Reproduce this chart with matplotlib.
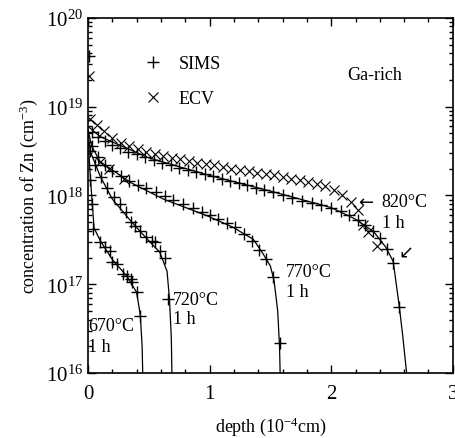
import matplotlib.pyplot as plt
import numpy as np

plt.rcParams['font.family'] = ['Liberation Serif', 'DejaVu Serif']
plt.rcParams['mathtext.fontset'] = 'custom'
plt.rcParams['mathtext.rm'] = 'Liberation Serif'
plt.rcParams['mathtext.it'] = 'Liberation Serif:italic'

# fitted profiles (depth in 1e-4 cm, concentration in cm^-3)
fit_670_x = [0, 0.015, 0.03, 0.05, 0.1, 0.2, 0.32, 0.4, 0.43, 0.445, 0.45]
fit_670_y = [4.5e18, 2e18, 1e18, 4.3e17, 3.1e17, 1.9e17, 1.23e17, 8.1e16, 4.5e16, 2e16, 1e16]

fit_720_x = [0, 0.02, 0.1, 0.2, 0.35, 0.48, 0.59, 0.65, 0.67, 0.685, 0.69]
fit_720_y = [5e18, 3.1e18, 1.65e18, 9.1e17, 5.2e17, 3.3e17, 2.3e17, 1.4e17, 6.8e16, 2.5e16, 1e16]

fit_770_x = [0, 0.03, 0.1, 0.35, 0.62, 0.98, 1.19, 1.36, 1.44, 1.5, 1.53, 1.56, 1.575, 1.58]
fit_770_y = [5.5e18, 3.6e18, 2.4e18, 1.4e18, 9.1e17, 5.9e17, 4.4e17, 3.2e17, 2.2e17,
             1.6e17, 1.1e17, 5e16, 2e16, 1e16]

fit_820_x = [0, 0.1, 0.5, 1.0, 1.5, 2.0, 2.2, 2.35, 2.45, 2.51, 2.56, 2.59, 2.62]
fit_820_y = [6e18, 4.6e18, 2.65e18, 1.68e18, 1.12e18, 7.3e17, 5.4e17, 3.9e17, 2.6e17,
             1.8e17, 5.6e16, 2.5e16, 1e16]

# SIMS data
sims_670_x = [0.02, 0.03, 0.04, 0.1, 0.14, 0.18, 0.2, 0.24, 0.29, 0.32, 0.35, 0.36, 0.4, 0.43]
sims_670_y = [1.5e18, 8e17, 4.2e17, 3.0e17, 2.6e17, 2.35e17, 1.8e17, 1.7e17, 1.3e17,
              1.23e17, 1.15e17, 1.07e17, 8.1e16, 4.4e16]

sims_720_x = [0.02, 0.06, 0.11, 0.16, 0.21, 0.26, 0.31, 0.35, 0.39, 0.43, 0.48, 0.53, 0.55,
              0.59, 0.63, 0.66]
sims_720_y = [3.2e18, 2.2e18, 1.6e18, 1.2e18, 9.5e17, 8e17, 6.5e17, 5e17, 4.5e17, 4e17,
              3.4e17, 3.1e17, 3e17, 2.35e17, 2.0e17, 6.8e16]

sims_770_x = [0.03, 0.08, 0.14, 0.2, 0.27, 0.34, 0.41, 0.48, 0.56, 0.63, 0.7, 0.78, 0.86,
              0.94, 1.0, 1.07, 1.14, 1.21, 1.28, 1.35, 1.41, 1.46, 1.52, 1.58]
sims_770_y = [3.6e18, 2.7e18, 2.2e18, 1.9e18, 1.65e18, 1.45e18, 1.3e18, 1.2e18, 1.1e18,
              9.8e17, 8.9e17, 8.0e17, 7.2e17, 6.5e17, 6.0e17, 5.5e17, 4.9e17, 4.4e17,
              3.7e17, 3.1e17, 2.4e17, 1.9e17, 1.2e17, 2.2e16]

sims_820_x = [0.005, 0.03, 0.08, 0.14, 0.2, 0.26, 0.33, 0.4, 0.47, 0.54, 0.61, 0.68, 0.75,
              0.82, 0.89, 0.96, 1.03, 1.1, 1.17, 1.24, 1.31, 1.38, 1.45, 1.52, 1.6, 1.68,
              1.76, 1.84, 1.92, 2.0, 2.08, 2.15, 2.22, 2.28, 2.34, 2.4, 2.46, 2.51, 2.56]
sims_820_y = [3.7e19, 5.2e18, 4.6e18, 4.1e18, 3.7e18, 3.4e18, 3.1e18, 2.9e18, 2.7e18,
              2.5e18, 2.35e18, 2.2e18, 2.05e18, 1.95e18, 1.85e18, 1.75e18, 1.65e18,
              1.55e18, 1.45e18, 1.38e18, 1.3e18, 1.22e18, 1.15e18, 1.08e18, 1.0e18,
              9.3e17, 8.7e17, 8.2e17, 7.8e17, 7.3e17, 6.6e17, 6.0e17, 5.3e17, 4.6e17,
              4.0e17, 3.3e17, 2.5e17, 1.75e17, 5.5e16]

# ECV data
ecv_770_x = [0.1, 0.17, 0.3]
ecv_770_y = [2.4e18, 2.0e18, 1.55e18]

ecv_820_x = [0.01, 0.02, 0.07, 0.13, 0.2, 0.27, 0.34, 0.41, 0.48, 0.55, 0.62, 0.69, 0.76,
             0.83, 0.9, 0.97, 1.04, 1.11, 1.18, 1.25, 1.32, 1.39, 1.46, 1.53, 1.6, 1.67,
             1.74, 1.81, 1.88, 1.95, 2.02, 2.09, 2.16, 2.22, 2.26, 2.3, 2.38]
ecv_820_y = [2.2e19, 7.2e18, 6.2e18, 5.3e18, 4.4e18, 3.9e18, 3.6e18, 3.3e18, 3.1e18,
             2.95e18, 2.8e18, 2.65e18, 2.55e18, 2.45e18, 2.35e18, 2.25e18, 2.2e18,
             2.1e18, 2.0e18, 1.95e18, 1.9e18, 1.8e18, 1.75e18, 1.7e18, 1.62e18, 1.55e18,
             1.48e18, 1.42e18, 1.35e18, 1.28e18, 1.15e18, 1.0e18, 8.5e17, 6.8e17,
             4.6e17, 3.9e17, 2.7e17]

fig = plt.figure(figsize=(4.56, 4.39), dpi=100)
ax = fig.add_axes([0.193, 0.148, 0.8, 0.809])

for fx, fy in [(fit_670_x, fit_670_y), (fit_720_x, fit_720_y),
               (fit_770_x, fit_770_y), (fit_820_x, fit_820_y)]:
    ax.plot(fx, fy, color='black', lw=0.9)

first = True
for sx, sy in [(sims_670_x, sims_670_y), (sims_720_x, sims_720_y),
               (sims_770_x, sims_770_y), (sims_820_x, sims_820_y)]:
    ax.plot(sx, sy, ls='none', marker='+', ms=9, mew=1.0, color='black',
            label='SIMS' if first else None)
    first = False

ax.plot(ecv_820_x, ecv_820_y, ls='none', marker='x', ms=6.5, mew=0.8, color='black',
        label='ECV')
ax.plot(ecv_770_x, ecv_770_y, ls='none', marker='x', ms=6.5, mew=0.8, color='black')

ax.set_yscale('log')
ax.set_xlim(0, 3)
ax.set_ylim(1e16, 1e20)
ax.set_xticks([0, 1, 2, 3])
ax.set_xticks(np.arange(0, 3.01, 0.2), minor=True)
ax.tick_params(which='both', direction='in', top=True, right=True, labelsize=15, width=1)
ax.tick_params(which='major', length=6)
ax.tick_params(which='minor', length=3)
ax.tick_params(axis='x', pad=8)
for s in ax.spines.values():
    s.set_linewidth(1.2)

ax.set_xlabel('depth (10$^{-4}$cm)', fontsize=13, labelpad=8)
ax.set_ylabel('concentration of Zn (cm$^{-3}$)', fontsize=13)

ax.legend(loc='upper left', bbox_to_anchor=(0.105, 0.94), frameon=False, fontsize=13,
          handletextpad=0.8, labelspacing=1.0, handlelength=1.2)

ax.text(2.36, 2.3e19, 'Ga-rich', fontsize=13, ha='center', va='center')
ax.text(2.22, 8.5e17, '\u2190', fontsize=13, va='center', family=['DejaVu Sans'])
ax.text(2.41, 8.5e17, '820\u00b0C', fontsize=13, va='center')
ax.text(2.42, 5.0e17, '1 h', fontsize=13, va='center')
ax.text(2.55, 2.3e17, '\u2199', fontsize=13, va='center', family=['DejaVu Sans'])
ax.text(1.63, 1.4e17, '770\u00b0C', fontsize=13, va='center')
ax.text(1.63, 8.3e16, '1 h', fontsize=13, va='center')
ax.text(0.7, 6.8e16, '720\u00b0C', fontsize=13, va='center')
ax.text(0.7, 4.1e16, '1 h', fontsize=13, va='center')
ax.text(0.0, 3.4e16, '670\u00b0C', fontsize=13, va='center')
ax.text(0.0, 2.0e16, '1 h', fontsize=13, va='center')

fig.savefig('out.png', dpi=100)
